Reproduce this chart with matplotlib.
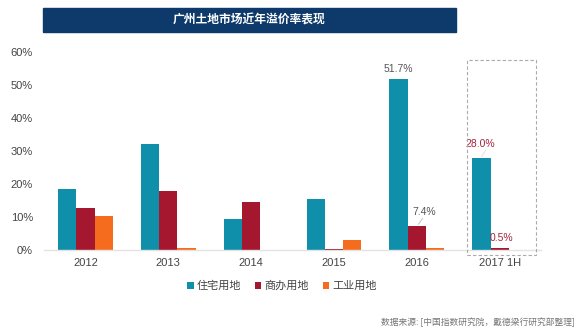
import matplotlib
matplotlib.use("Agg")
import matplotlib.pyplot as plt
from matplotlib.patches import Rectangle, Patch
import numpy as np

plt.rcParams['font.family'] = ['Liberation Sans', 'Noto Sans CJK SC', 'DejaVu Sans']

categories = ["2012", "2013", "2014", "2015", "2016", "2017 1H"]
series_names = ["住宅用地", "商办用地", "工业用地"]
residential = [18.5, 32.1, 9.4, 15.5, 51.7, 28.0]
commercial = [12.6, 17.8, 14.6, 0.2, 7.4, 0.5]
industrial = [10.3, 0.5, 0.0, 3.0, 0.6, 0.0]
y_ticks = [0, 10, 20, 30, 40, 50, 60]
title = "广州土地市场近年溢价率表现"
source = "数据来源: [中国指数研究院，戴德梁行研究部整理]"

colors = ["#0f8fa9", "#a5172f", "#f56c1e"]

fig = plt.figure(figsize=(5.8, 3.31), dpi=100)
ax = fig.add_axes([0.0759, 0.2447, 0.857, 0.598])

x = np.arange(len(categories))
w = 0.22
series = [residential, commercial, industrial]
for i, (vals, c) in enumerate(zip(series, colors)):
    ax.bar(x + (i - 1) * w, vals, width=w, color=c, label=series_names[i], zorder=2)

ax.set_xlim(-0.5, len(categories) - 0.5)
ax.set_ylim(0, 60)
ax.set_yticks(y_ticks)
ax.set_yticklabels([f"{v}%" for v in y_ticks])
ax.set_xticks(x)
ax.set_xticklabels(categories)
for s in ["top", "right", "left"]:
    ax.spines[s].set_visible(False)
ax.spines["bottom"].set_color("#e3e3e3")
ax.spines["bottom"].set_linewidth(1.0)
ax.tick_params(axis="both", length=0, labelsize=8, colors="#444444")
ax.tick_params(axis="y", pad=8)
ax.tick_params(axis="x", pad=6)

# data labels
gray = "#555555"
lab_red = "#a3243f"
ax.text(x[4] - w, residential[4] + 1.5, f"{residential[4]}%", ha="center", va="bottom",
        fontsize=7.5, color=gray)
ax.text(x[4] + 0.09, commercial[4] + 2.5, f"{commercial[4]}%", ha="center", va="bottom",
        fontsize=7.5, color=gray)
ax.plot([x[4] + 0.02, x[4] + 0.07], [commercial[4] + 0.4, commercial[4] + 2.2],
        color="#bbbbbb", lw=0.6)
ax.text(x[5] - w - 0.02, residential[5] + 2.5, f"{residential[5]:.1f}%", ha="center",
        va="bottom", fontsize=7.5, color=lab_red)
ax.plot([x[5] - w, x[5] - w + 0.05], [residential[5] + 0.3, residential[5] + 2.2],
        color="#dddddd", lw=0.6)
ax.text(x[5] + 0.02, commercial[5] + 1.5, f"{commercial[5]}%", ha="center", va="bottom",
        fontsize=7.5, color=lab_red)

# dashed highlight box
rect = Rectangle((4.60, -1.5), 0.84, 59.1, fill=False, ls=(0, (3, 2)),
                 ec="#aaaaaa", lw=0.8, clip_on=False, zorder=3)
ax.add_patch(rect)

# title bar
fig.patches.append(Rectangle((43 / 580, 1 - 32 / 331), (456 - 43) / 580, 24 / 331,
                             transform=fig.transFigure, color="#0d3a6a", zorder=0))
fig.text(249.5 / 580, 1 - 20 / 331, title, ha="center", va="center", color="white",
         fontsize=8.5, fontweight="bold", family=["Noto Sans CJK SC", "DejaVu Sans"])

# legend
handles = [Patch(facecolor=c, edgecolor="none") for c in colors]
leg = fig.legend(handles, series_names, loc="center", bbox_to_anchor=(282 / 580, 1 - 286 / 331),
                 ncol=3, frameon=False, handlelength=0.6, handleheight=0.6,
                 handletextpad=0.3, columnspacing=1.2,
                 prop={"family": ["Noto Sans CJK SC", "DejaVu Sans"], "size": 8})
for t in leg.get_texts():
    t.set_color("#444444")

fig.text(575 / 580, 1 - 322 / 331, source, ha="right", va="center", fontsize=6.3,
         color="#777777", family=["Noto Sans CJK SC", "DejaVu Sans"])

fig.savefig("out.png", dpi=100)
